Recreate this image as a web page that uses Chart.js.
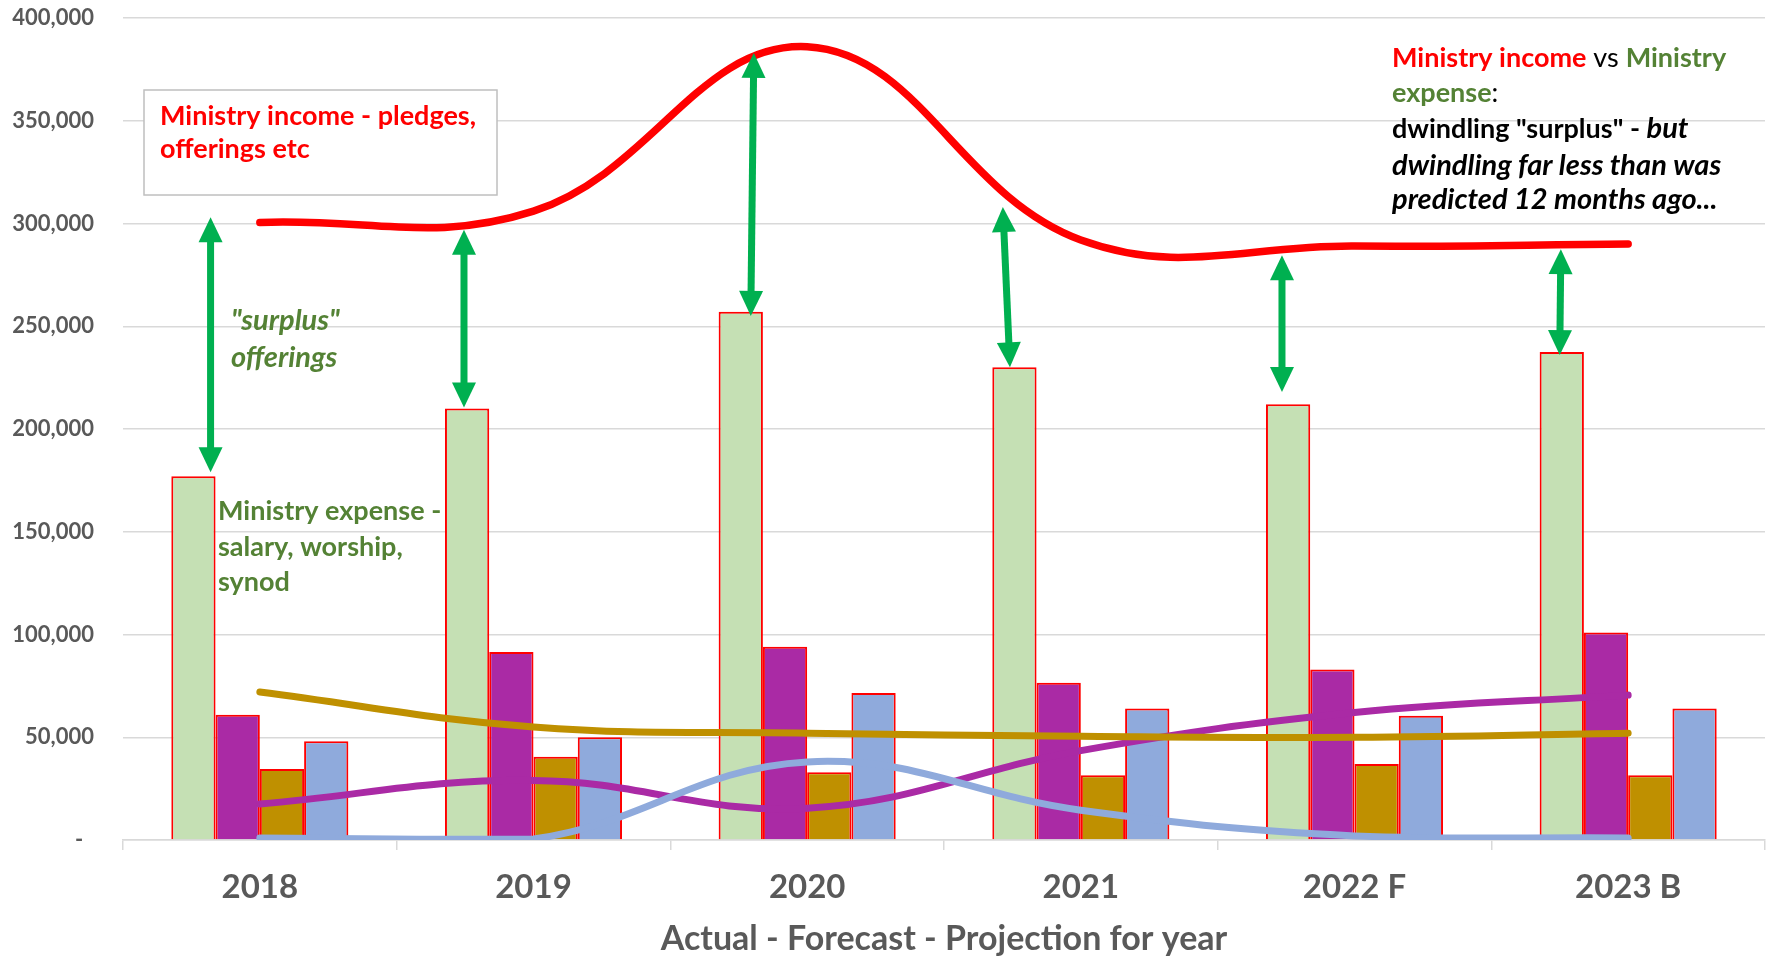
<!DOCTYPE html>
<html>
<head>
<meta charset="utf-8">
<script src="https://cdn.jsdelivr.net/npm/chart.js@4.4.1/dist/chart.umd.min.js"></script>
<style>
  html, body { margin: 0; padding: 0; background: #fff; }
  #wrap { width: 1767px; height: 956px; }
</style>
</head>
<body>
<div id="wrap"><canvas id="myChart"></canvas></div>
<script>
const years = ['2018', '2019', '2020', '2021', '2022 F', '2023 B'];

// bars
const ministryExpense = [177000, 210000, 257000, 230000, 212000, 237500];
const purpleBars = [61000, 91500, 94000, 76500, 83000, 101000];
const goldBars = [34500, 40500, 33000, 31500, 37000, 31500];
const blueBars = [48000, 50000, 71500, 64000, 60500, 64000];

// smoothed lines
const ministryIncome = [300500, 306000, 386000, 292000, 289000, 290000];
const goldLine = [72000, 55000, 52000, 50500, 50000, 52000];
const purpleLine = [17500, 29000, 15500, 43500, 62000, 70500];
const blueLine = [1000, 500, 38000, 14500, 2000, 1000];

// "surplus" arrows: value at top (income) and bottom (expense bar top)
const arrowTop = [303000, 297000, 383000, 308000, 284500, 287500];
const arrowBottom = [179000, 210500, 255000, 230000, 218000, 236000];
// where each arrow sits, as a category index (top end, bottom end)
const arrowAt = [[-0.18, -0.18], [0.746, 0.746], [1.805, 1.794], [2.715, 2.741], [3.735, 3.735], [4.754, 4.75]];

const FONT = 'Lato, "Open Sans", sans-serif';
const RED = '#FF0000';
const DKGREEN = '#548235';

function drawArrow(ctx, x1, y1, x2, y2) {
  const head = 25, half = 12, shaft = 7;
  const len = Math.hypot(x2 - x1, y2 - y1);
  ctx.save();
  ctx.translate(x1, y1);
  ctx.rotate(Math.atan2(y2 - y1, x2 - x1));
  ctx.fillStyle = '#00B050';
  ctx.fillRect(head - 1, -shaft / 2, len - 2 * head + 2, shaft);
  ctx.beginPath();
  ctx.moveTo(0, 0); ctx.lineTo(head, -half); ctx.lineTo(head, half);
  ctx.closePath(); ctx.fill();
  ctx.beginPath();
  ctx.moveTo(len, 0); ctx.lineTo(len - head, -half); ctx.lineTo(len - head, half);
  ctx.closePath(); ctx.fill();
  ctx.restore();
}

function drawParts(ctx, x, y, parts) {
  let cx = x;
  for (const p of parts) {
    ctx.font = p.font;
    ctx.fillStyle = p.color;
    ctx.fillText(p.text, cx, y);
    cx += ctx.measureText(p.text).width;
  }
}

const notes = {
  id: 'notes',
  beforeDatasetsDraw(chart) {
    const ctx = chart.ctx;
    ctx.save();
    ctx.fillStyle = '#fff';
    ctx.fillRect(144, 90, 353, 105);
    ctx.strokeStyle = '#BFBFBF';
    ctx.lineWidth = 1.5;
    ctx.strokeRect(144, 90, 353, 105);
    ctx.restore();
  },
  afterDatasetsDraw(chart) {
    const ctx = chart.ctx;
    const xs = chart.scales.x, ys = chart.scales.y;
    for (let i = 0; i < arrowTop.length; i++) {
      drawArrow(ctx,
        xs.getPixelForValue(arrowAt[i][0]), ys.getPixelForValue(arrowTop[i]),
        xs.getPixelForValue(arrowAt[i][1]), ys.getPixelForValue(arrowBottom[i]));
    }

    ctx.save();
    ctx.textBaseline = 'alphabetic';
    ctx.textAlign = 'left';
    const b = 'bold 27px ' + FONT;
    const n = '27px ' + FONT;
    const bi = 'italic bold 29px ' + FONT;

    drawParts(ctx, 160, 125, [{ text: 'Ministry income - pledges,', font: b, color: RED }]);
    drawParts(ctx, 160, 158, [{ text: 'offerings etc', font: b, color: RED }]);

    drawParts(ctx, 231, 330, [{ text: '"surplus"', font: bi, color: DKGREEN }]);
    drawParts(ctx, 231, 367, [{ text: 'offerings', font: bi, color: DKGREEN }]);

    drawParts(ctx, 218, 520, [{ text: 'Ministry expense -', font: b, color: DKGREEN }]);
    drawParts(ctx, 218, 556, [{ text: 'salary, worship,', font: b, color: DKGREEN }]);
    drawParts(ctx, 218, 591, [{ text: 'synod', font: b, color: DKGREEN }]);

    drawParts(ctx, 1392, 67, [
      { text: 'Ministry income', font: b, color: RED },
      { text: ' vs ', font: n, color: '#000' },
      { text: 'Ministry', font: b, color: DKGREEN }
    ]);
    drawParts(ctx, 1392, 102, [
      { text: 'expense', font: b, color: DKGREEN },
      { text: ':', font: n, color: '#000' }
    ]);
    drawParts(ctx, 1392, 138, [
      { text: 'dwindling "surplus" - ', font: b, color: '#000' },
      { text: 'but', font: bi, color: '#000' }
    ]);
    drawParts(ctx, 1392, 175, [{ text: 'dwindling far less than was', font: bi, color: '#000' }]);
    drawParts(ctx, 1392, 209, [{ text: 'predicted 12 months ago...', font: bi, color: '#000' }]);
    ctx.restore();
  }
};

function lineSet(data, color, width, order) {
  return {
    type: 'line', data: data, borderColor: color, backgroundColor: color,
    borderWidth: width, pointRadius: 0, pointHoverRadius: 0, tension: 0.4,
    borderCapStyle: 'round', fill: false, order: order
  };
}

function barSet(data, color) {
  return {
    type: 'bar', data: data, backgroundColor: color, borderColor: RED,
    borderWidth: 2, categoryPercentage: 0.647, barPercentage: 1.0, order: 10
  };
}

const ctx = document.getElementById('myChart').getContext('2d');

new Chart(ctx, {
  type: 'bar',
  data: {
    labels: years,
    datasets: [
      lineSet(ministryIncome, RED, 7.5, 0),
      lineSet(blueLine, '#8FAADC', 7, 1),
      lineSet(goldLine, '#BF9000', 7, 2),
      lineSet(purpleLine, '#AA2AA5', 7, 3),
      barSet(ministryExpense, '#C5E0B4'),
      barSet(purpleBars, '#AA2AA5'),
      barSet(goldBars, '#BF9000'),
      barSet(blueBars, '#8FAADC')
    ]
  },
  options: {
    responsive: true,
    maintainAspectRatio: false,
    animation: false,
    layout: { padding: { top: 18, right: 2, left: 0, bottom: 0 } },
    plugins: {
      legend: { display: false },
      tooltip: { enabled: false }
    },
    scales: {
      x: {
        grid: {
          display: true, drawOnChartArea: false, drawTicks: true,
          tickLength: 10, color: '#D9D9D9', lineWidth: 1.5, offset: true
        },
        border: { color: '#D9D9D9', width: 1.5 },
        ticks: {
          color: '#595959', padding: 18, maxRotation: 0,
          font: { family: FONT, size: 33, weight: 'bold' }
        },
        title: {
          display: true,
          text: 'Actual - Forecast - Projection for year',
          color: '#595959',
          font: { family: FONT, size: 34, weight: 'bold', lineHeight: 1.0 },
          padding: { top: 0, bottom: 0 }
        },
        afterFit: s => { s.height = 116; }
      },
      y: {
        min: 0,
        max: 400000,
        grid: { color: '#D9D9D9', lineWidth: 1.5, drawTicks: false },
        border: { display: false },
        ticks: {
          stepSize: 50000, color: '#595959', padding: 29,
          font: { family: FONT, size: 22, weight: 'bold' },
          callback: v => v === 0 ? '-  ' : v.toLocaleString('en-US')
        },
        afterFit: s => { s.width = 123; s.paddingTop = 0; s.paddingBottom = 0; }
      }
    }
  },
  plugins: [notes]
});
</script>
</body>
</html>
